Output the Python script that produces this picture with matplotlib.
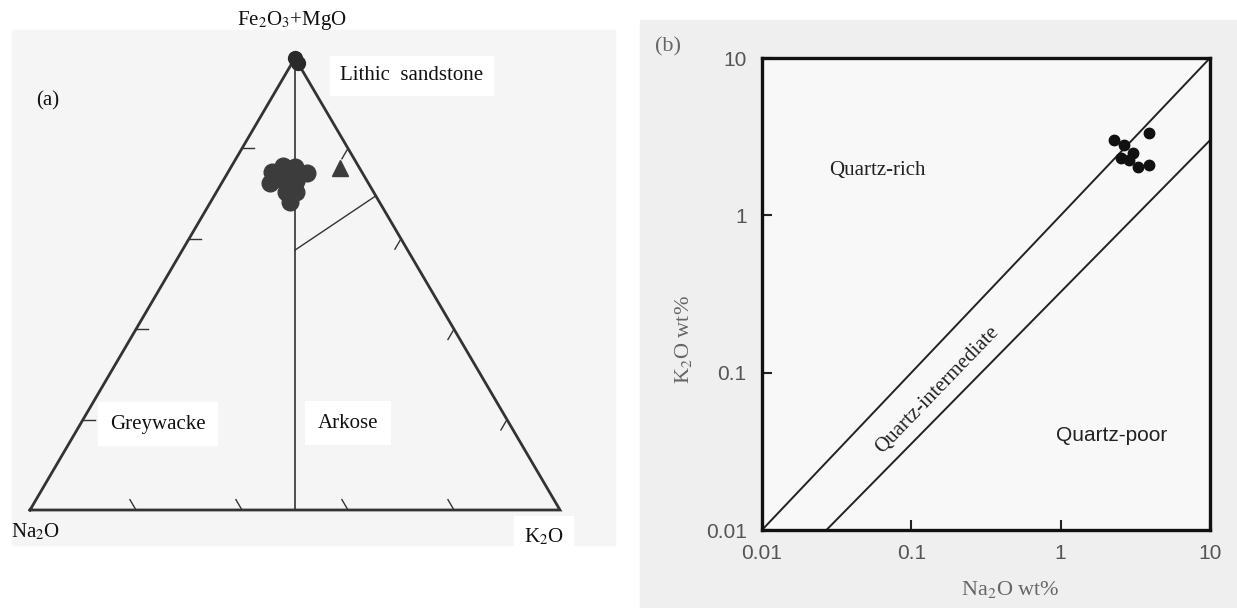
import numpy as np
import matplotlib.pyplot as plt
from matplotlib.patches import Rectangle

plt.rcParams['font.family'] = ['Liberation Serif', 'DejaVu Serif']
plt.rcParams['mathtext.fontset'] = 'stix'

W, H = 1237, 608

# (a) ternary data, wt% of Fe2O3+MgO, Na2O, K2O
clus_F = [74.8, 76.1, 75.9, 74.6, 72.3, 73.0, 72.8, 70.4, 70.4, 68.1, 74.1]
clus_Na = [16.9, 14.2, 12.0, 10.4, 18.5, 15.8, 13.4, 16.5, 14.6, 16.9, 16.1]
clus_K = [8.3, 9.7, 12.1, 15.0, 9.2, 11.2, 13.8, 13.1, 15.0, 15.0, 9.8]
tri_F, tri_Na, tri_K = [75.7], [3.7], [20.6]
apex_F, apex_Na, apex_K = [100, 99], [0, 0], [0, 1]
# field boundaries
split_F, split_Na, split_K = [100, 0], [0, 50], [0, 50]
lith_F, lith_Na, lith_K = [57.5, 69.5], [21.25, 0], [21.25, 30.5]
tick_vals = [0.2, 0.4, 0.6, 0.8]

# (b) Na2O vs K2O wt%
na2o = [3.9, 2.27, 2.65, 2.53, 3.04, 3.29, 3.9, 2.86]
k2o = [3.34, 3.01, 2.80, 2.32, 2.49, 2.03, 2.09, 2.25]
upper_x, upper_y = [0.01, 10], [0.01, 10]
lower_x, lower_y = [0.027, 10], [0.01, 3.0]
log_ticks = [0.01, 0.1, 1, 10]
log_labels = ['0.01', '0.1', '1', '10']


def fx(px):
    return px / W


def fy(py):
    return 1 - py / H


def tern(F, Na, K):
    F, Na, K = (np.asarray(v, float) for v in (F, Na, K))
    s = F + Na + K
    return K / s + F / s / 2, F / s


fig = plt.figure(figsize=(W / 100, H / 100), dpi=100)

# scanned backgrounds
fig.add_artist(Rectangle((fx(12), fy(545)), fx(603), 515 / H, transform=fig.transFigure,
                         color='#f5f5f5', zorder=0))
fig.add_artist(Rectangle((fx(640), 0), fx(597), 588 / H, transform=fig.transFigure,
                         color='#efefef', zorder=0))

# ---------- panel (a) ----------
axa = fig.add_axes([fx(30), fy(510), 530 / W, 452 / H])
axa.set_xlim(0, 1)
axa.set_ylim(0, 1)
axa.axis('off')
axa.patch.set_alpha(0)

ec = '#333333'
corners = tern([0, 100, 0, 0], [100, 0, 0, 100], [0, 0, 100, 0])
axa.plot(*corners, color=ec, lw=2.0, clip_on=False, solid_joinstyle='miter')
axa.plot(*tern(split_F, split_Na, split_K), color=ec, lw=1.2, clip_on=False)
axa.plot(*tern(lith_F, lith_Na, lith_K), color=ec, lw=1.0, clip_on=False)

L = 12 / 524
for t in tick_vals:
    x, y = tern([t], [1 - t], [0])
    axa.plot([x[0], x[0] + 12 / 530], [y[0], y[0]], color=ec, lw=1.0)
    x, y = tern([0], [1 - t], [t])
    axa.plot([x[0], x[0] - 0.5 * L], [y[0], y[0] + L], color=ec, lw=1.0)
    x, y = tern([t], [0], [1 - t])
    axa.plot([x[0], x[0] - 0.5 * L], [y[0], y[0] - L], color=ec, lw=1.0, zorder=5)

axa.plot(*tern(clus_F, clus_Na, clus_K), 'o', color='#3c3c3c', ms=12, mec='#3c3c3c',
         clip_on=False)
axa.plot(*tern(tri_F, tri_Na, tri_K), '^', color='#3c3c3c', ms=12, clip_on=False)
axa.plot(*tern(apex_F, apex_Na, apex_K), 'o', color='#2a2a2a', ms=10, clip_on=False)

lab = dict(fontsize=15, color='#111111', va='center')
box = dict(boxstyle='square,pad=0.5', fc='white', ec='none')
fig.text(fx(292), fy(21), 'Fe$_2$O$_3$+MgO', ha='center', **lab)
fig.text(fx(36), fy(101), '(a)', ha='left', **lab)
fig.text(fx(340), fy(76), 'Lithic  sandstone', ha='left', bbox=box, **lab)
fig.text(fx(110), fy(424), 'Greywacke', ha='left', bbox=dict(boxstyle='square,pad=0.6', fc='white', ec='none'), **lab)
fig.text(fx(318), fy(423), 'Arkose', ha='left', bbox=dict(boxstyle='square,pad=0.6', fc='white', ec='none'), **lab)
fig.text(fx(11), fy(532), 'Na$_2$O', ha='left', **lab)
fig.text(fx(524), fy(537), 'K$_2$O', ha='left', bbox=box, **lab)

# ---------- panel (b) ----------
axb = fig.add_axes([fx(762), fy(530), 448 / W, 472 / H])
axb.set_facecolor('#f8f8f8')
axb.set_xscale('log')
axb.set_yscale('log')
axb.set_xlim(0.01, 10)
axb.set_ylim(0.01, 10)
axb.plot(upper_x, upper_y, color='#222222', lw=1.4)
axb.plot(lower_x, lower_y, color='#222222', lw=1.4)
axb.plot(na2o, k2o, 'o', color='#111111', ms=7.5)

axb.set_xticks(log_ticks, log_labels)
axb.set_yticks(log_ticks, log_labels)
axb.minorticks_off()
axb.tick_params(direction='in', length=7, width=1.5, color='#222222', labelcolor='#555555',
                labelsize=15, labelfontfamily='Liberation Sans')
axb.tick_params(axis='x', pad=10)
axb.tick_params(axis='y', pad=11)
for s in axb.spines.values():
    s.set_linewidth(2.4)
    s.set_color('#111111')

axb.text(0.059, 1.94, 'Quartz-rich', fontsize=15, ha='center', va='center', color='#222222')
axb.text(2.21, 0.0396, 'Quartz-poor', fontsize=15, ha='center', va='center', color='#222222',
         family='Liberation Sans')
axb.text(0.15, 0.078, 'Quartz-intermediate', fontsize=15, ha='center', va='center',
         rotation=46, rotation_mode='anchor', color='#222222')

gl = dict(fontsize=16, color='#666666', va='center', ha='center')
fig.text(fx(668), fy(47), '(b)', **gl)
fig.text(fx(683), fy(340), 'K$_2$O wt%', rotation=90, **gl)
fig.text(fx(1010), fy(590), 'Na$_2$O wt%', **gl)

fig.savefig('out.png', dpi=100)
